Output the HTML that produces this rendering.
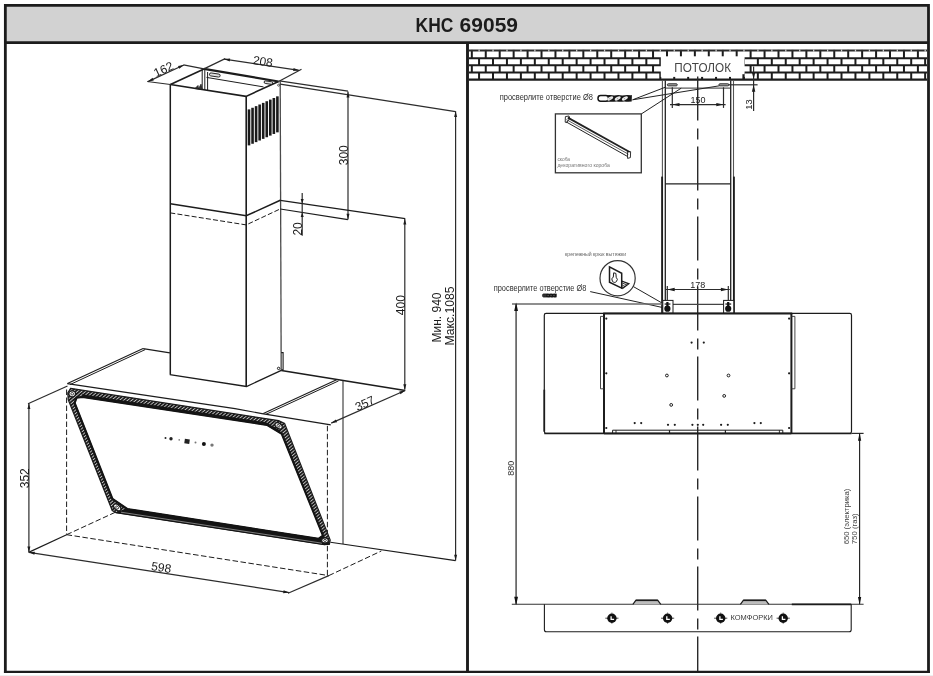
<!DOCTYPE html>
<html lang="ru"><head><meta charset="utf-8"><title>KHC 69059</title>
<style>
html,body{margin:0;padding:0;background:#fff;}
body{width:933px;height:676px;overflow:hidden;font-family:"Liberation Sans",sans-serif;}
svg{display:block;will-change:transform;}
svg text{font-family:"Liberation Sans",sans-serif;}
</style></head><body>
<svg width="933" height="676" viewBox="0 0 933 676">
<rect x="0" y="0" width="933" height="676" fill="#ffffff"/>
<rect x="5.3" y="5.3" width="923.1" height="37.3" fill="#d2d2d2"/>
<path d="M5.35 673.0 L5.35 5.3 L928.5 5.3 L928.5 673.0" fill="none" stroke="#1c1c1c" stroke-width="2.8" stroke-linejoin="miter"/>
<line x1="3.95" y1="671.90" x2="929.90" y2="671.90" stroke="#1c1c1c" stroke-width="2.3" />
<rect x="0" y="675" width="933" height="1" fill="#efefef"/>
<line x1="5.30" y1="42.60" x2="928.40" y2="42.60" stroke="#1c1c1c" stroke-width="2.8" />
<line x1="467.50" y1="42.60" x2="467.50" y2="671.80" stroke="#1c1c1c" stroke-width="2.9" />
<text x="415.60" y="31.90" font-size="20" text-anchor="start" fill="#1c1c1c" font-weight="bold" textLength="37.8" lengthAdjust="spacingAndGlyphs" >KHC</text>
<text x="459.60" y="31.90" font-size="20" text-anchor="start" fill="#1c1c1c" font-weight="bold" textLength="58.4" lengthAdjust="spacingAndGlyphs" >69059</text>
<path d="M170.40 84.50 L246.00 96.40 L278.60 81.50" fill="none" stroke="#1c1c1c" stroke-width="1.6" />
<path d="M170.40 84.50 L204.00 68.90" fill="none" stroke="#1c1c1c" stroke-width="1.6" />
<line x1="204.00" y1="68.90" x2="278.60" y2="81.50" stroke="#1c1c1c" stroke-width="2.2" />
<line x1="206.50" y1="77.40" x2="263.50" y2="86.90" stroke="#1c1c1c" stroke-width="1.0" />
<line x1="202.20" y1="69.50" x2="202.20" y2="89.60" stroke="#1c1c1c" stroke-width="1.0" />
<line x1="204.80" y1="70.00" x2="204.80" y2="90.00" stroke="#1c1c1c" stroke-width="1.0" />
<line x1="207.60" y1="72.00" x2="207.60" y2="90.40" stroke="#1c1c1c" stroke-width="1.0" />
<path d="M195.00 88.50 L198.00 85.50 L198.50 88.90 L201.00 84.20 L202.00 89.60 Z" fill="#333" stroke="#1c1c1c" stroke-width="0.8" />
<rect x="-5.4" y="-1.5" width="10.8" height="3" rx="1.5" fill="#ddd" stroke="#1c1c1c" stroke-width="0.9" transform="translate(214.8 75.0) rotate(8.5)"/>
<rect x="-4.3" y="-1.3" width="8.6" height="2.6" rx="1.3" fill="#ddd" stroke="#1c1c1c" stroke-width="0.9" transform="translate(268.4 82.6) rotate(8.5)"/>
<circle cx="278.6" cy="85.2" r="1" fill="none" stroke="#1c1c1c" stroke-width="0.7"/>
<line x1="170.30" y1="84.50" x2="170.30" y2="374.60" stroke="#1c1c1c" stroke-width="1.5" />
<line x1="246.20" y1="96.40" x2="246.20" y2="386.50" stroke="#1c1c1c" stroke-width="1.6" />
<line x1="280.20" y1="81.50" x2="281.20" y2="370.40" stroke="#4a4a4a" stroke-width="1.3" />
<path d="M170.30 203.80 L246.20 215.80 L280.30 200.30" fill="none" stroke="#1c1c1c" stroke-width="1.5" />
<path d="M170.30 212.90 L246.20 224.90 L280.30 208.90" fill="none" stroke="#1c1c1c" stroke-width="1.0" stroke-dasharray="5 2.2"/>
<path d="M169.80 374.70 L246.50 386.50 L281.30 370.40" fill="none" stroke="#1c1c1c" stroke-width="1.3" />
<line x1="249.00" y1="109.40" x2="249.00" y2="145.40" stroke="#1a1a1a" stroke-width="2.6" />
<line x1="252.55" y1="107.77" x2="252.55" y2="143.77" stroke="#1a1a1a" stroke-width="2.6" />
<line x1="256.10" y1="106.13" x2="256.10" y2="142.13" stroke="#1a1a1a" stroke-width="2.6" />
<line x1="259.65" y1="104.50" x2="259.65" y2="140.50" stroke="#1a1a1a" stroke-width="2.6" />
<line x1="263.20" y1="102.87" x2="263.20" y2="138.87" stroke="#1a1a1a" stroke-width="2.6" />
<line x1="266.75" y1="101.23" x2="266.75" y2="137.24" stroke="#1a1a1a" stroke-width="2.6" />
<line x1="270.30" y1="99.60" x2="270.30" y2="135.60" stroke="#1a1a1a" stroke-width="2.6" />
<line x1="273.85" y1="97.97" x2="273.85" y2="133.97" stroke="#1a1a1a" stroke-width="2.6" />
<line x1="277.40" y1="96.34" x2="277.40" y2="132.34" stroke="#1a1a1a" stroke-width="2.6" />
<path d="M281.20 352.60 L283.10 352.60 L283.10 369.60 L281.20 370.20" fill="none" stroke="#1c1c1c" stroke-width="1.1" />
<circle cx="278.6" cy="368.4" r="1.2" fill="#fff" stroke="#1c1c1c" stroke-width="1.0"/>
<line x1="170.40" y1="84.50" x2="147.20" y2="81.50" stroke="#2c2c2c" stroke-width="1.2" />
<line x1="204.00" y1="68.90" x2="183.50" y2="64.90" stroke="#2c2c2c" stroke-width="1.2" />
<line x1="147.90" y1="81.60" x2="183.90" y2="65.00" stroke="#2c2c2c" stroke-width="1.2" />
<path d="M147.90 81.60 L152.54 77.81 L153.80 80.53 Z" fill="#1c1c1c"/>
<path d="M183.90 65.00 L179.26 68.79 L178.00 66.07 Z" fill="#1c1c1c"/>
<text x="165.20" y="73.00" font-size="12" text-anchor="middle" fill="#1c1c1c" font-weight="normal" transform="rotate(-24.8 165.20 73.00)" >162</text>
<line x1="204.00" y1="68.90" x2="225.20" y2="58.60" stroke="#2c2c2c" stroke-width="1.2" />
<line x1="278.60" y1="81.50" x2="301.50" y2="69.20" stroke="#2c2c2c" stroke-width="1.2" />
<line x1="224.20" y1="59.10" x2="299.10" y2="70.30" stroke="#2c2c2c" stroke-width="1.2" />
<path d="M224.20 59.10 L230.16 58.47 L229.71 61.44 Z" fill="#1c1c1c"/>
<path d="M299.10 70.30 L293.14 70.93 L293.59 67.96 Z" fill="#1c1c1c"/>
<text x="262.30" y="65.40" font-size="12" text-anchor="middle" fill="#1c1c1c" font-weight="normal" transform="rotate(8.5 262.30 65.40)" >208</text>
<line x1="279.40" y1="80.90" x2="348.00" y2="91.10" stroke="#2c2c2c" stroke-width="1.2" />
<line x1="280.20" y1="84.10" x2="455.60" y2="111.70" stroke="#2c2c2c" stroke-width="1.2" />
<line x1="348.00" y1="91.50" x2="348.00" y2="219.60" stroke="#2c2c2c" stroke-width="1.2" />
<path d="M348.00 91.80 L349.50 97.60 L346.50 97.60 Z" fill="#1c1c1c"/>
<path d="M348.00 219.60 L346.50 213.80 L349.50 213.80 Z" fill="#1c1c1c"/>
<text x="348.20" y="155.20" font-size="12" text-anchor="middle" fill="#1c1c1c" font-weight="normal" transform="rotate(-90 348.20 155.20)" dy="0">300</text>
<line x1="280.30" y1="200.40" x2="405.20" y2="218.60" stroke="#1c1c1c" stroke-width="1.2" />
<line x1="280.30" y1="209.00" x2="347.90" y2="219.70" stroke="#1c1c1c" stroke-width="1.2" />
<line x1="302.20" y1="192.90" x2="302.20" y2="235.80" stroke="#2c2c2c" stroke-width="1.2" />
<path d="M302.20 203.60 L300.70 199.10 L303.70 199.10 Z" fill="#1c1c1c"/>
<path d="M302.20 212.40 L303.70 216.90 L300.70 216.90 Z" fill="#1c1c1c"/>
<text x="302.00" y="228.90" font-size="12" text-anchor="middle" fill="#1c1c1c" font-weight="normal" transform="rotate(-90 302.00 228.90)" dy="0">20</text>
<line x1="404.80" y1="218.80" x2="404.80" y2="389.60" stroke="#2c2c2c" stroke-width="1.2" />
<path d="M404.80 218.80 L406.30 224.60 L403.30 224.60 Z" fill="#1c1c1c"/>
<path d="M404.80 390.00 L403.30 384.20 L406.30 384.20 Z" fill="#1c1c1c"/>
<text x="404.90" y="305.10" font-size="12" text-anchor="middle" fill="#1c1c1c" font-weight="normal" transform="rotate(-90 404.90 305.10)" dy="0">400</text>
<line x1="455.60" y1="111.20" x2="455.60" y2="560.60" stroke="#2c2c2c" stroke-width="1.2" />
<path d="M455.60 111.20 L457.10 117.00 L454.10 117.00 Z" fill="#1c1c1c"/>
<path d="M455.60 560.60 L454.10 554.80 L457.10 554.80 Z" fill="#1c1c1c"/>
<text x="440.60" y="317.50" font-size="12" text-anchor="middle" fill="#1c1c1c" font-weight="normal" transform="rotate(-90 440.60 317.50)" >Мин. 940</text>
<text x="454.00" y="316.00" font-size="12" text-anchor="middle" fill="#1c1c1c" font-weight="normal" transform="rotate(-90 454.00 316.00)" textLength="59" lengthAdjust="spacingAndGlyphs" >Макс.1085</text>
<path d="M143.10 348.60 L169.90 352.90" fill="none" stroke="#1c1c1c" stroke-width="1.2" />
<path d="M281.30 370.50 L405.20 390.50" fill="none" stroke="#1c1c1c" stroke-width="1.7" />
<line x1="143.10" y1="348.60" x2="67.50" y2="383.60" stroke="#1c1c1c" stroke-width="1.1" />
<line x1="145.20" y1="349.60" x2="70.00" y2="384.60" stroke="#1c1c1c" stroke-width="1.0" />
<line x1="336.60" y1="379.80" x2="263.30" y2="413.40" stroke="#1c1c1c" stroke-width="1.1" />
<line x1="338.60" y1="380.90" x2="266.00" y2="414.30" stroke="#1c1c1c" stroke-width="1.0" />
<path d="M67.30 383.60 L235.00 408.60 L262.00 413.60 L330.80 424.80" fill="none" stroke="#1c1c1c" stroke-width="1.2" />
<line x1="405.20" y1="390.50" x2="331.20" y2="423.10" stroke="#2c2c2c" stroke-width="1.2" />
<path d="M405.20 390.50 L400.50 394.21 L399.29 391.47 Z" fill="#1c1c1c"/>
<path d="M331.20 423.10 L335.90 419.39 L337.11 422.13 Z" fill="#1c1c1c"/>
<text x="366.50" y="407.20" font-size="12" text-anchor="middle" fill="#1c1c1c" font-weight="normal" transform="rotate(-24.5 366.50 407.20)" >357</text>
<line x1="343.00" y1="381.00" x2="343.00" y2="544.00" stroke="#333" stroke-width="1.1" />
<line x1="327.40" y1="425.80" x2="327.40" y2="575.60" stroke="#1c1c1c" stroke-width="1.0" stroke-dasharray="5.5 2.5"/>
<line x1="330.40" y1="542.30" x2="455.60" y2="560.60" stroke="#1c1c1c" stroke-width="1.1" />
<line x1="328.80" y1="575.60" x2="381.30" y2="551.00" stroke="#1c1c1c" stroke-width="1.0" stroke-dasharray="5.5 2.5"/>
<line x1="66.60" y1="534.70" x2="328.80" y2="575.60" stroke="#1c1c1c" stroke-width="1.0" stroke-dasharray="5.5 2.5"/>
<line x1="66.60" y1="534.70" x2="115.00" y2="512.40" stroke="#1c1c1c" stroke-width="1.0" stroke-dasharray="5.5 2.5"/>
<line x1="66.60" y1="389.50" x2="66.60" y2="534.70" stroke="#1c1c1c" stroke-width="1.0" stroke-dasharray="5.5 2.5"/>
<line x1="67.50" y1="386.00" x2="28.00" y2="403.80" stroke="#2c2c2c" stroke-width="1.2" />
<line x1="66.60" y1="534.70" x2="28.60" y2="552.40" stroke="#1c1c1c" stroke-width="1.2" />
<line x1="28.90" y1="403.30" x2="28.90" y2="552.30" stroke="#2c2c2c" stroke-width="1.2" />
<path d="M28.90 403.30 L30.40 409.10 L27.40 409.10 Z" fill="#1c1c1c"/>
<path d="M28.90 552.30 L27.40 546.50 L30.40 546.50 Z" fill="#1c1c1c"/>
<text x="28.70" y="478.20" font-size="12" text-anchor="middle" fill="#1c1c1c" font-weight="normal" transform="rotate(-90 28.70 478.20)" dy="0">352</text>
<line x1="28.90" y1="552.30" x2="289.10" y2="592.60" stroke="#2c2c2c" stroke-width="1.2" />
<line x1="328.80" y1="575.60" x2="288.00" y2="593.20" stroke="#2c2c2c" stroke-width="1.2" />
<path d="M28.90 552.30 L34.86 551.71 L34.40 554.67 Z" fill="#1c1c1c"/>
<path d="M289.10 592.60 L283.14 593.19 L283.60 590.23 Z" fill="#1c1c1c"/>
<text x="160.60" y="571.60" font-size="12" text-anchor="middle" fill="#1c1c1c" font-weight="normal" transform="rotate(8.8 160.60 571.60)" >598</text>
<defs><pattern id="hatch" width="2.6" height="2.6" patternUnits="userSpaceOnUse" patternTransform="rotate(-40)"><rect width="2.6" height="2.6" fill="#141414"/><rect width="2.6" height="0.95" y="0.8" fill="#c4c4c4"/></pattern></defs>
<path d="M70.60 388.30 L278.60 420.60 L284.60 423.40 L286.40 428.00 L330.20 540.00 L329.40 544.20 L324.50 544.60 L116.00 512.60 L112.20 510.50 L68.20 399.50 L67.80 393.00 Z M82.50 397.00 L267.00 424.90 L281.80 433.80 L323.00 535.60 L318.50 538.80 L127.20 509.00 L112.40 498.80 L74.60 402.80 L76.60 397.60 Z" fill="url(#hatch)" fill-rule="evenodd" stroke="#1c1c1c" stroke-width="1.2"/>
<path d="M82.50 397.00 L267.00 424.90 L281.80 433.80 L323.00 535.60 L318.50 538.80 L127.20 509.00 L112.40 498.80 L74.60 402.80 L76.60 397.60 Z" fill="none" stroke="#141414" stroke-width="2.2" stroke-linejoin="round"/>
<path d="M82.5 397.0 L267.0 424.9 L281.8 433.8 L279.0 430.0 L266.0 422.2 L82.0 394.3 Z" fill="#141414"/>
<path d="M127.2 509.0 L318.5 538.8 L323.0 535.6 L329.4 544.2 L324.5 544.6 L116.0 512.6 Z" fill="#141414" stroke="#141414" stroke-width="1"/>
<path d="M121 512.2 L322 543.2" fill="none" stroke="#c4c4c4" stroke-width="0.6"/>
<ellipse cx="72.2" cy="393.8" rx="3.3" ry="3.0" fill="#fff" stroke="#1c1c1c" stroke-width="1.3" transform="rotate(0 72.2 393.8)"/>
<ellipse cx="72.2" cy="393.8" rx="1.39" ry="1.26" fill="#fff" stroke="#1c1c1c" stroke-width="0.8" transform="rotate(0 72.2 393.8)"/>
<ellipse cx="278.6" cy="425.8" rx="4.0" ry="2.5" fill="#fff" stroke="#1c1c1c" stroke-width="1.3" transform="rotate(35 278.6 425.8)"/>
<ellipse cx="278.6" cy="425.8" rx="1.68" ry="1.05" fill="#fff" stroke="#1c1c1c" stroke-width="0.8" transform="rotate(35 278.6 425.8)"/>
<ellipse cx="117.2" cy="507.4" rx="4.2" ry="2.5" fill="#fff" stroke="#1c1c1c" stroke-width="1.3" transform="rotate(40 117.2 507.4)"/>
<ellipse cx="117.2" cy="507.4" rx="1.76" ry="1.05" fill="#fff" stroke="#1c1c1c" stroke-width="0.8" transform="rotate(40 117.2 507.4)"/>
<ellipse cx="325.0" cy="540.4" rx="3.4" ry="2.5" fill="#fff" stroke="#1c1c1c" stroke-width="1.3" transform="rotate(0 325.0 540.4)"/>
<ellipse cx="325.0" cy="540.4" rx="1.43" ry="1.05" fill="#fff" stroke="#1c1c1c" stroke-width="0.8" transform="rotate(0 325.0 540.4)"/>
<circle cx="165.5" cy="437.9" r="1.0" fill="#222"/>
<circle cx="171.0" cy="438.7" r="1.7" fill="#222"/>
<circle cx="179.2" cy="439.9" r="0.8" fill="#777"/>
<circle cx="195.5" cy="442.5" r="1.0" fill="#777"/>
<circle cx="203.9" cy="443.9" r="2.0" fill="#111"/>
<circle cx="212.0" cy="445.1" r="1.7" fill="#777"/>
<rect x="184.6" y="439.0" width="5" height="4.6" fill="#222" transform="rotate(8 187 441)"/>
<rect x="469.0" y="49.9" width="458.0" height="29.7" fill="#fff"/>
<line x1="471.82" y1="49.90" x2="471.82" y2="58.30" stroke="#1c1c1c" stroke-width="2.0" />
<line x1="485.76" y1="49.90" x2="485.76" y2="58.30" stroke="#1c1c1c" stroke-width="2.0" />
<line x1="499.70" y1="49.90" x2="499.70" y2="58.30" stroke="#1c1c1c" stroke-width="2.0" />
<line x1="513.64" y1="49.90" x2="513.64" y2="58.30" stroke="#1c1c1c" stroke-width="2.0" />
<line x1="527.58" y1="49.90" x2="527.58" y2="58.30" stroke="#1c1c1c" stroke-width="2.0" />
<line x1="541.52" y1="49.90" x2="541.52" y2="58.30" stroke="#1c1c1c" stroke-width="2.0" />
<line x1="555.46" y1="49.90" x2="555.46" y2="58.30" stroke="#1c1c1c" stroke-width="2.0" />
<line x1="569.40" y1="49.90" x2="569.40" y2="58.30" stroke="#1c1c1c" stroke-width="2.0" />
<line x1="583.34" y1="49.90" x2="583.34" y2="58.30" stroke="#1c1c1c" stroke-width="2.0" />
<line x1="597.28" y1="49.90" x2="597.28" y2="58.30" stroke="#1c1c1c" stroke-width="2.0" />
<line x1="611.22" y1="49.90" x2="611.22" y2="58.30" stroke="#1c1c1c" stroke-width="2.0" />
<line x1="625.16" y1="49.90" x2="625.16" y2="58.30" stroke="#1c1c1c" stroke-width="2.0" />
<line x1="639.10" y1="49.90" x2="639.10" y2="58.30" stroke="#1c1c1c" stroke-width="2.0" />
<line x1="653.04" y1="49.90" x2="653.04" y2="58.30" stroke="#1c1c1c" stroke-width="2.0" />
<line x1="666.98" y1="49.90" x2="666.98" y2="58.30" stroke="#1c1c1c" stroke-width="2.0" />
<line x1="680.92" y1="49.90" x2="680.92" y2="58.30" stroke="#1c1c1c" stroke-width="2.0" />
<line x1="694.86" y1="49.90" x2="694.86" y2="58.30" stroke="#1c1c1c" stroke-width="2.0" />
<line x1="708.80" y1="49.90" x2="708.80" y2="58.30" stroke="#1c1c1c" stroke-width="2.0" />
<line x1="722.74" y1="49.90" x2="722.74" y2="58.30" stroke="#1c1c1c" stroke-width="2.0" />
<line x1="736.68" y1="49.90" x2="736.68" y2="58.30" stroke="#1c1c1c" stroke-width="2.0" />
<line x1="750.62" y1="49.90" x2="750.62" y2="58.30" stroke="#1c1c1c" stroke-width="2.0" />
<line x1="764.56" y1="49.90" x2="764.56" y2="58.30" stroke="#1c1c1c" stroke-width="2.0" />
<line x1="778.50" y1="49.90" x2="778.50" y2="58.30" stroke="#1c1c1c" stroke-width="2.0" />
<line x1="792.44" y1="49.90" x2="792.44" y2="58.30" stroke="#1c1c1c" stroke-width="2.0" />
<line x1="806.38" y1="49.90" x2="806.38" y2="58.30" stroke="#1c1c1c" stroke-width="2.0" />
<line x1="820.32" y1="49.90" x2="820.32" y2="58.30" stroke="#1c1c1c" stroke-width="2.0" />
<line x1="834.26" y1="49.90" x2="834.26" y2="58.30" stroke="#1c1c1c" stroke-width="2.0" />
<line x1="848.20" y1="49.90" x2="848.20" y2="58.30" stroke="#1c1c1c" stroke-width="2.0" />
<line x1="862.14" y1="49.90" x2="862.14" y2="58.30" stroke="#1c1c1c" stroke-width="2.0" />
<line x1="876.08" y1="49.90" x2="876.08" y2="58.30" stroke="#1c1c1c" stroke-width="2.0" />
<line x1="890.02" y1="49.90" x2="890.02" y2="58.30" stroke="#1c1c1c" stroke-width="2.0" />
<line x1="903.96" y1="49.90" x2="903.96" y2="58.30" stroke="#1c1c1c" stroke-width="2.0" />
<line x1="917.90" y1="49.90" x2="917.90" y2="58.30" stroke="#1c1c1c" stroke-width="2.0" />
<line x1="479.06" y1="58.30" x2="479.06" y2="65.30" stroke="#1c1c1c" stroke-width="2.0" />
<line x1="493.00" y1="58.30" x2="493.00" y2="65.30" stroke="#1c1c1c" stroke-width="2.0" />
<line x1="506.94" y1="58.30" x2="506.94" y2="65.30" stroke="#1c1c1c" stroke-width="2.0" />
<line x1="520.88" y1="58.30" x2="520.88" y2="65.30" stroke="#1c1c1c" stroke-width="2.0" />
<line x1="534.82" y1="58.30" x2="534.82" y2="65.30" stroke="#1c1c1c" stroke-width="2.0" />
<line x1="548.76" y1="58.30" x2="548.76" y2="65.30" stroke="#1c1c1c" stroke-width="2.0" />
<line x1="562.70" y1="58.30" x2="562.70" y2="65.30" stroke="#1c1c1c" stroke-width="2.0" />
<line x1="576.64" y1="58.30" x2="576.64" y2="65.30" stroke="#1c1c1c" stroke-width="2.0" />
<line x1="590.58" y1="58.30" x2="590.58" y2="65.30" stroke="#1c1c1c" stroke-width="2.0" />
<line x1="604.52" y1="58.30" x2="604.52" y2="65.30" stroke="#1c1c1c" stroke-width="2.0" />
<line x1="618.46" y1="58.30" x2="618.46" y2="65.30" stroke="#1c1c1c" stroke-width="2.0" />
<line x1="632.40" y1="58.30" x2="632.40" y2="65.30" stroke="#1c1c1c" stroke-width="2.0" />
<line x1="646.34" y1="58.30" x2="646.34" y2="65.30" stroke="#1c1c1c" stroke-width="2.0" />
<line x1="660.28" y1="58.30" x2="660.28" y2="65.30" stroke="#1c1c1c" stroke-width="2.0" />
<line x1="674.22" y1="58.30" x2="674.22" y2="65.30" stroke="#1c1c1c" stroke-width="2.0" />
<line x1="688.16" y1="58.30" x2="688.16" y2="65.30" stroke="#1c1c1c" stroke-width="2.0" />
<line x1="702.10" y1="58.30" x2="702.10" y2="65.30" stroke="#1c1c1c" stroke-width="2.0" />
<line x1="716.04" y1="58.30" x2="716.04" y2="65.30" stroke="#1c1c1c" stroke-width="2.0" />
<line x1="729.98" y1="58.30" x2="729.98" y2="65.30" stroke="#1c1c1c" stroke-width="2.0" />
<line x1="743.92" y1="58.30" x2="743.92" y2="65.30" stroke="#1c1c1c" stroke-width="2.0" />
<line x1="757.86" y1="58.30" x2="757.86" y2="65.30" stroke="#1c1c1c" stroke-width="2.0" />
<line x1="771.80" y1="58.30" x2="771.80" y2="65.30" stroke="#1c1c1c" stroke-width="2.0" />
<line x1="785.74" y1="58.30" x2="785.74" y2="65.30" stroke="#1c1c1c" stroke-width="2.0" />
<line x1="799.68" y1="58.30" x2="799.68" y2="65.30" stroke="#1c1c1c" stroke-width="2.0" />
<line x1="813.62" y1="58.30" x2="813.62" y2="65.30" stroke="#1c1c1c" stroke-width="2.0" />
<line x1="827.56" y1="58.30" x2="827.56" y2="65.30" stroke="#1c1c1c" stroke-width="2.0" />
<line x1="841.50" y1="58.30" x2="841.50" y2="65.30" stroke="#1c1c1c" stroke-width="2.0" />
<line x1="855.44" y1="58.30" x2="855.44" y2="65.30" stroke="#1c1c1c" stroke-width="2.0" />
<line x1="869.38" y1="58.30" x2="869.38" y2="65.30" stroke="#1c1c1c" stroke-width="2.0" />
<line x1="883.32" y1="58.30" x2="883.32" y2="65.30" stroke="#1c1c1c" stroke-width="2.0" />
<line x1="897.26" y1="58.30" x2="897.26" y2="65.30" stroke="#1c1c1c" stroke-width="2.0" />
<line x1="911.20" y1="58.30" x2="911.20" y2="65.30" stroke="#1c1c1c" stroke-width="2.0" />
<line x1="925.14" y1="58.30" x2="925.14" y2="65.30" stroke="#1c1c1c" stroke-width="2.0" />
<line x1="471.82" y1="65.30" x2="471.82" y2="72.40" stroke="#1c1c1c" stroke-width="2.0" />
<line x1="485.76" y1="65.30" x2="485.76" y2="72.40" stroke="#1c1c1c" stroke-width="2.0" />
<line x1="499.70" y1="65.30" x2="499.70" y2="72.40" stroke="#1c1c1c" stroke-width="2.0" />
<line x1="513.64" y1="65.30" x2="513.64" y2="72.40" stroke="#1c1c1c" stroke-width="2.0" />
<line x1="527.58" y1="65.30" x2="527.58" y2="72.40" stroke="#1c1c1c" stroke-width="2.0" />
<line x1="541.52" y1="65.30" x2="541.52" y2="72.40" stroke="#1c1c1c" stroke-width="2.0" />
<line x1="555.46" y1="65.30" x2="555.46" y2="72.40" stroke="#1c1c1c" stroke-width="2.0" />
<line x1="569.40" y1="65.30" x2="569.40" y2="72.40" stroke="#1c1c1c" stroke-width="2.0" />
<line x1="583.34" y1="65.30" x2="583.34" y2="72.40" stroke="#1c1c1c" stroke-width="2.0" />
<line x1="597.28" y1="65.30" x2="597.28" y2="72.40" stroke="#1c1c1c" stroke-width="2.0" />
<line x1="611.22" y1="65.30" x2="611.22" y2="72.40" stroke="#1c1c1c" stroke-width="2.0" />
<line x1="625.16" y1="65.30" x2="625.16" y2="72.40" stroke="#1c1c1c" stroke-width="2.0" />
<line x1="639.10" y1="65.30" x2="639.10" y2="72.40" stroke="#1c1c1c" stroke-width="2.0" />
<line x1="653.04" y1="65.30" x2="653.04" y2="72.40" stroke="#1c1c1c" stroke-width="2.0" />
<line x1="666.98" y1="65.30" x2="666.98" y2="72.40" stroke="#1c1c1c" stroke-width="2.0" />
<line x1="680.92" y1="65.30" x2="680.92" y2="72.40" stroke="#1c1c1c" stroke-width="2.0" />
<line x1="694.86" y1="65.30" x2="694.86" y2="72.40" stroke="#1c1c1c" stroke-width="2.0" />
<line x1="708.80" y1="65.30" x2="708.80" y2="72.40" stroke="#1c1c1c" stroke-width="2.0" />
<line x1="722.74" y1="65.30" x2="722.74" y2="72.40" stroke="#1c1c1c" stroke-width="2.0" />
<line x1="736.68" y1="65.30" x2="736.68" y2="72.40" stroke="#1c1c1c" stroke-width="2.0" />
<line x1="750.62" y1="65.30" x2="750.62" y2="72.40" stroke="#1c1c1c" stroke-width="2.0" />
<line x1="764.56" y1="65.30" x2="764.56" y2="72.40" stroke="#1c1c1c" stroke-width="2.0" />
<line x1="778.50" y1="65.30" x2="778.50" y2="72.40" stroke="#1c1c1c" stroke-width="2.0" />
<line x1="792.44" y1="65.30" x2="792.44" y2="72.40" stroke="#1c1c1c" stroke-width="2.0" />
<line x1="806.38" y1="65.30" x2="806.38" y2="72.40" stroke="#1c1c1c" stroke-width="2.0" />
<line x1="820.32" y1="65.30" x2="820.32" y2="72.40" stroke="#1c1c1c" stroke-width="2.0" />
<line x1="834.26" y1="65.30" x2="834.26" y2="72.40" stroke="#1c1c1c" stroke-width="2.0" />
<line x1="848.20" y1="65.30" x2="848.20" y2="72.40" stroke="#1c1c1c" stroke-width="2.0" />
<line x1="862.14" y1="65.30" x2="862.14" y2="72.40" stroke="#1c1c1c" stroke-width="2.0" />
<line x1="876.08" y1="65.30" x2="876.08" y2="72.40" stroke="#1c1c1c" stroke-width="2.0" />
<line x1="890.02" y1="65.30" x2="890.02" y2="72.40" stroke="#1c1c1c" stroke-width="2.0" />
<line x1="903.96" y1="65.30" x2="903.96" y2="72.40" stroke="#1c1c1c" stroke-width="2.0" />
<line x1="917.90" y1="65.30" x2="917.90" y2="72.40" stroke="#1c1c1c" stroke-width="2.0" />
<line x1="479.06" y1="72.40" x2="479.06" y2="79.60" stroke="#1c1c1c" stroke-width="2.0" />
<line x1="493.00" y1="72.40" x2="493.00" y2="79.60" stroke="#1c1c1c" stroke-width="2.0" />
<line x1="506.94" y1="72.40" x2="506.94" y2="79.60" stroke="#1c1c1c" stroke-width="2.0" />
<line x1="520.88" y1="72.40" x2="520.88" y2="79.60" stroke="#1c1c1c" stroke-width="2.0" />
<line x1="534.82" y1="72.40" x2="534.82" y2="79.60" stroke="#1c1c1c" stroke-width="2.0" />
<line x1="548.76" y1="72.40" x2="548.76" y2="79.60" stroke="#1c1c1c" stroke-width="2.0" />
<line x1="562.70" y1="72.40" x2="562.70" y2="79.60" stroke="#1c1c1c" stroke-width="2.0" />
<line x1="576.64" y1="72.40" x2="576.64" y2="79.60" stroke="#1c1c1c" stroke-width="2.0" />
<line x1="590.58" y1="72.40" x2="590.58" y2="79.60" stroke="#1c1c1c" stroke-width="2.0" />
<line x1="604.52" y1="72.40" x2="604.52" y2="79.60" stroke="#1c1c1c" stroke-width="2.0" />
<line x1="618.46" y1="72.40" x2="618.46" y2="79.60" stroke="#1c1c1c" stroke-width="2.0" />
<line x1="632.40" y1="72.40" x2="632.40" y2="79.60" stroke="#1c1c1c" stroke-width="2.0" />
<line x1="646.34" y1="72.40" x2="646.34" y2="79.60" stroke="#1c1c1c" stroke-width="2.0" />
<line x1="660.28" y1="72.40" x2="660.28" y2="79.60" stroke="#1c1c1c" stroke-width="2.0" />
<line x1="674.22" y1="72.40" x2="674.22" y2="79.60" stroke="#1c1c1c" stroke-width="2.0" />
<line x1="688.16" y1="72.40" x2="688.16" y2="79.60" stroke="#1c1c1c" stroke-width="2.0" />
<line x1="702.10" y1="72.40" x2="702.10" y2="79.60" stroke="#1c1c1c" stroke-width="2.0" />
<line x1="716.04" y1="72.40" x2="716.04" y2="79.60" stroke="#1c1c1c" stroke-width="2.0" />
<line x1="729.98" y1="72.40" x2="729.98" y2="79.60" stroke="#1c1c1c" stroke-width="2.0" />
<line x1="743.92" y1="72.40" x2="743.92" y2="79.60" stroke="#1c1c1c" stroke-width="2.0" />
<line x1="757.86" y1="72.40" x2="757.86" y2="79.60" stroke="#1c1c1c" stroke-width="2.0" />
<line x1="771.80" y1="72.40" x2="771.80" y2="79.60" stroke="#1c1c1c" stroke-width="2.0" />
<line x1="785.74" y1="72.40" x2="785.74" y2="79.60" stroke="#1c1c1c" stroke-width="2.0" />
<line x1="799.68" y1="72.40" x2="799.68" y2="79.60" stroke="#1c1c1c" stroke-width="2.0" />
<line x1="813.62" y1="72.40" x2="813.62" y2="79.60" stroke="#1c1c1c" stroke-width="2.0" />
<line x1="827.56" y1="72.40" x2="827.56" y2="79.60" stroke="#1c1c1c" stroke-width="2.0" />
<line x1="841.50" y1="72.40" x2="841.50" y2="79.60" stroke="#1c1c1c" stroke-width="2.0" />
<line x1="855.44" y1="72.40" x2="855.44" y2="79.60" stroke="#1c1c1c" stroke-width="2.0" />
<line x1="869.38" y1="72.40" x2="869.38" y2="79.60" stroke="#1c1c1c" stroke-width="2.0" />
<line x1="883.32" y1="72.40" x2="883.32" y2="79.60" stroke="#1c1c1c" stroke-width="2.0" />
<line x1="897.26" y1="72.40" x2="897.26" y2="79.60" stroke="#1c1c1c" stroke-width="2.0" />
<line x1="911.20" y1="72.40" x2="911.20" y2="79.60" stroke="#1c1c1c" stroke-width="2.0" />
<line x1="925.14" y1="72.40" x2="925.14" y2="79.60" stroke="#1c1c1c" stroke-width="2.0" />
<line x1="469.00" y1="58.30" x2="927.00" y2="58.30" stroke="#1c1c1c" stroke-width="2.0" />
<line x1="469.00" y1="65.30" x2="927.00" y2="65.30" stroke="#1c1c1c" stroke-width="2.0" />
<line x1="469.00" y1="72.40" x2="927.00" y2="72.40" stroke="#1c1c1c" stroke-width="2.0" />
<line x1="469.00" y1="50.60" x2="927.00" y2="50.60" stroke="#2a2a2a" stroke-width="2.0" />
<rect x="478.46" y="49.5" width="1.3" height="2.2" fill="#d0d0d0"/>
<rect x="492.40" y="49.5" width="1.3" height="2.2" fill="#d0d0d0"/>
<rect x="506.34" y="49.5" width="1.3" height="2.2" fill="#d0d0d0"/>
<rect x="520.28" y="49.5" width="1.3" height="2.2" fill="#d0d0d0"/>
<rect x="534.22" y="49.5" width="1.3" height="2.2" fill="#d0d0d0"/>
<rect x="548.16" y="49.5" width="1.3" height="2.2" fill="#d0d0d0"/>
<rect x="562.10" y="49.5" width="1.3" height="2.2" fill="#d0d0d0"/>
<rect x="576.04" y="49.5" width="1.3" height="2.2" fill="#d0d0d0"/>
<rect x="589.98" y="49.5" width="1.3" height="2.2" fill="#d0d0d0"/>
<rect x="603.92" y="49.5" width="1.3" height="2.2" fill="#d0d0d0"/>
<rect x="617.86" y="49.5" width="1.3" height="2.2" fill="#d0d0d0"/>
<rect x="631.80" y="49.5" width="1.3" height="2.2" fill="#d0d0d0"/>
<rect x="645.74" y="49.5" width="1.3" height="2.2" fill="#d0d0d0"/>
<rect x="659.68" y="49.5" width="1.3" height="2.2" fill="#d0d0d0"/>
<rect x="673.62" y="49.5" width="1.3" height="2.2" fill="#d0d0d0"/>
<rect x="687.56" y="49.5" width="1.3" height="2.2" fill="#d0d0d0"/>
<rect x="701.50" y="49.5" width="1.3" height="2.2" fill="#d0d0d0"/>
<rect x="715.44" y="49.5" width="1.3" height="2.2" fill="#d0d0d0"/>
<rect x="729.38" y="49.5" width="1.3" height="2.2" fill="#d0d0d0"/>
<rect x="743.32" y="49.5" width="1.3" height="2.2" fill="#d0d0d0"/>
<rect x="757.26" y="49.5" width="1.3" height="2.2" fill="#d0d0d0"/>
<rect x="771.20" y="49.5" width="1.3" height="2.2" fill="#d0d0d0"/>
<rect x="785.14" y="49.5" width="1.3" height="2.2" fill="#d0d0d0"/>
<rect x="799.08" y="49.5" width="1.3" height="2.2" fill="#d0d0d0"/>
<rect x="813.02" y="49.5" width="1.3" height="2.2" fill="#d0d0d0"/>
<rect x="826.96" y="49.5" width="1.3" height="2.2" fill="#d0d0d0"/>
<rect x="840.90" y="49.5" width="1.3" height="2.2" fill="#d0d0d0"/>
<rect x="854.84" y="49.5" width="1.3" height="2.2" fill="#d0d0d0"/>
<rect x="868.78" y="49.5" width="1.3" height="2.2" fill="#d0d0d0"/>
<rect x="882.72" y="49.5" width="1.3" height="2.2" fill="#d0d0d0"/>
<rect x="896.66" y="49.5" width="1.3" height="2.2" fill="#d0d0d0"/>
<rect x="910.60" y="49.5" width="1.3" height="2.2" fill="#d0d0d0"/>
<rect x="924.54" y="49.5" width="1.3" height="2.2" fill="#d0d0d0"/>
<line x1="469.00" y1="79.60" x2="927.00" y2="79.60" stroke="#1c1c1c" stroke-width="2.4" />
<rect x="660.8" y="56.3" width="83.8" height="20.6" fill="#fff"/>
<text x="702.60" y="71.60" font-size="13.1" text-anchor="middle" fill="#454545" font-weight="normal" textLength="56.7" lengthAdjust="spacingAndGlyphs" >ПОТОЛОК</text>
<line x1="743.40" y1="74.20" x2="743.40" y2="79.60" stroke="#1c1c1c" stroke-width="2.0" />
<line x1="662.40" y1="80.50" x2="662.40" y2="177.00" stroke="#555" stroke-width="1.1" />
<line x1="665.30" y1="80.50" x2="665.30" y2="313.00" stroke="#222" stroke-width="1.3" />
<line x1="730.70" y1="80.50" x2="730.70" y2="313.00" stroke="#222" stroke-width="1.3" />
<line x1="733.50" y1="80.50" x2="733.50" y2="177.00" stroke="#555" stroke-width="1.1" />
<line x1="662.10" y1="176.60" x2="662.10" y2="313.50" stroke="#1c1c1c" stroke-width="1.9" />
<line x1="733.90" y1="176.60" x2="733.90" y2="313.50" stroke="#1c1c1c" stroke-width="1.9" />
<line x1="665.30" y1="183.80" x2="730.70" y2="183.80" stroke="#222" stroke-width="1.2" />
<line x1="665.30" y1="88.10" x2="730.70" y2="88.10" stroke="#333" stroke-width="1.0" />
<rect x="667.3" y="83.7" width="10" height="2.2" rx="1.1" fill="#999" stroke="#1c1c1c" stroke-width="0.8"/>
<rect x="718.9" y="83.7" width="10" height="2.2" rx="1.1" fill="#999" stroke="#1c1c1c" stroke-width="0.8"/>
<line x1="697.70" y1="76.50" x2="697.70" y2="671.00" stroke="#2a2a2a" stroke-width="1.4" stroke-dasharray="44 8 11 7"/>
<line x1="672.30" y1="87.30" x2="672.30" y2="107.90" stroke="#2c2c2c" stroke-width="1.2" />
<line x1="723.50" y1="87.30" x2="723.50" y2="107.90" stroke="#2c2c2c" stroke-width="1.2" />
<line x1="670.00" y1="104.60" x2="725.60" y2="104.60" stroke="#2c2c2c" stroke-width="1.2" />
<path d="M672.30 104.60 L679.50 102.90 L679.50 106.30 Z" fill="#1c1c1c"/>
<path d="M723.50 104.60 L716.30 106.30 L716.30 102.90 Z" fill="#1c1c1c"/>
<text x="697.90" y="102.60" font-size="9" text-anchor="middle" fill="#1c1c1c" font-weight="normal" >150</text>
<line x1="753.60" y1="66.50" x2="753.60" y2="111.00" stroke="#2c2c2c" stroke-width="1.2" />
<line x1="728.40" y1="84.80" x2="757.60" y2="84.80" stroke="#2c2c2c" stroke-width="1.2" />
<path d="M753.60 79.00 L751.90 72.20 L755.30 72.20 Z" fill="#1c1c1c"/>
<path d="M753.60 85.00 L755.30 91.80 L751.90 91.80 Z" fill="#1c1c1c"/>
<text x="751.60" y="104.50" font-size="9.4" text-anchor="middle" fill="#1c1c1c" font-weight="normal" transform="rotate(-90 751.60 104.50)" >13</text>
<text x="499.70" y="99.90" font-size="8.3" text-anchor="start" fill="#2e2e2e" font-weight="normal" textLength="93.2" lengthAdjust="spacingAndGlyphs" >просверлите отверстие Ø8</text>
<g transform="translate(597.3 98.4) scale(1.0 1.0)">
<path d="M9 -3.1 Q13 -3.7 17 -3.0 Q21 -3.7 25 -3.0 Q29 -3.6 33.6 -3.2 L34.6 -3.4 L34.4 3.2 Q30 3.6 27 3.0 Q23 3.7 19.5 3.0 Q15 3.7 9 3.2 Z" fill="#151515"/>
<rect x="0.7" y="-2.8" width="10.5" height="5.6" rx="2.6" fill="#fff" stroke="#151515" stroke-width="1.5"/>
<ellipse cx="12.9" cy="0" rx="3.3" ry="1.55" fill="#e9e9e9" transform="rotate(-30 12.9 0)"/>
<circle cx="12.6" cy="0.4" r="0.45" fill="#555"/>
<ellipse cx="20.4" cy="0" rx="3.3" ry="1.55" fill="#e9e9e9" transform="rotate(-30 20.4 0)"/>
<circle cx="20.099999999999998" cy="0.4" r="0.45" fill="#555"/>
<ellipse cx="27.6" cy="0" rx="3.3" ry="1.55" fill="#e9e9e9" transform="rotate(-30 27.6 0)"/>
<circle cx="27.3" cy="0.4" r="0.45" fill="#555"/>
</g>
<line x1="632.60" y1="99.80" x2="665.40" y2="87.20" stroke="#222" stroke-width="1.0" />
<line x1="632.60" y1="99.80" x2="719.40" y2="85.80" stroke="#222" stroke-width="1.0" />
<line x1="641.40" y1="113.90" x2="681.20" y2="88.20" stroke="#222" stroke-width="1.0" />
<rect x="555.4" y="113.9" width="85.9" height="58.9" fill="none" stroke="#333" stroke-width="1.3"/>
<line x1="567.80" y1="117.60" x2="629.60" y2="152.00" stroke="#222" stroke-width="1.8" />
<line x1="566.40" y1="119.60" x2="628.40" y2="154.20" stroke="#333" stroke-width="0.8" />
<line x1="566.00" y1="121.80" x2="627.40" y2="156.40" stroke="#222" stroke-width="1.0" />
<path d="M565.40 116.60 L569.00 116.00 L569.80 118.40 L566.60 122.60 L565.20 122.20 Z" fill="none" stroke="#1c1c1c" stroke-width="0.9" />
<path d="M627.40 151.40 L630.60 151.60 L630.40 157.60 L627.60 158.40 Z" fill="none" stroke="#1c1c1c" stroke-width="0.9" />
<text x="557.40" y="160.70" font-size="5.3" text-anchor="start" fill="#777" font-weight="normal" textLength="12.6" lengthAdjust="spacingAndGlyphs" >скоба</text>
<text x="557.40" y="167.00" font-size="5.3" text-anchor="start" fill="#777" font-weight="normal" textLength="52.4" lengthAdjust="spacingAndGlyphs" >декоративного короба</text>
<text x="565.10" y="255.60" font-size="5.2" text-anchor="start" fill="#666" font-weight="normal" textLength="61" lengthAdjust="spacingAndGlyphs" >крепежный крюк вытяжки</text>
<circle cx="617.6" cy="278.2" r="17.6" fill="none" stroke="#333" stroke-width="1.2"/>
<path d="M609.50 266.90 L621.70 273.30 L621.70 288.10 L609.50 282.30 Z" fill="none" stroke="#1c1c1c" stroke-width="1.5" />
<path d="M621.70 281.00 L628.80 283.80 L623.00 288.10 L621.70 288.10 Z" fill="none" stroke="#1c1c1c" stroke-width="1.3" />
<line x1="622.60" y1="283.20" x2="626.80" y2="284.90" stroke="#1c1c1c" stroke-width="0.9" />
<line x1="622.60" y1="285.40" x2="625.00" y2="286.40" stroke="#1c1c1c" stroke-width="0.9" />
<path d="M613.7 272.8 L615.9 273.4 L616.2 277.3 A2.6 2.9 0 1 1 613.3 277.0 Z" fill="#fff" stroke="#1c1c1c" stroke-width="1.0"/>
<text x="493.70" y="291.00" font-size="8.3" text-anchor="start" fill="#2e2e2e" font-weight="normal" textLength="92.6" lengthAdjust="spacingAndGlyphs" >просверлите отверстие Ø8</text>
<g transform="translate(542.2 295.5) scale(0.42 0.56)">
<path d="M9 -3.1 Q13 -3.7 17 -3.0 Q21 -3.7 25 -3.0 Q29 -3.6 33.6 -3.2 L34.6 -3.4 L34.4 3.2 Q30 3.6 27 3.0 Q23 3.7 19.5 3.0 Q15 3.7 9 3.2 Z" fill="#151515"/>
<rect x="0.7" y="-2.8" width="10.5" height="5.6" rx="2.6" fill="#333" stroke="#151515" stroke-width="1.5"/>
<circle cx="14" cy="0" r="1.3" fill="#777"/>
<circle cx="21" cy="0" r="1.3" fill="#777"/>
<circle cx="28" cy="0" r="1.3" fill="#777"/>
</g>
<line x1="590.20" y1="291.60" x2="662.00" y2="307.40" stroke="#222" stroke-width="1.0" />
<line x1="633.40" y1="286.60" x2="662.00" y2="303.00" stroke="#222" stroke-width="1.0" />
<line x1="512.00" y1="303.90" x2="662.50" y2="303.90" stroke="#6a6a6a" stroke-width="1.5" />
<line x1="673.00" y1="304.30" x2="723.40" y2="304.30" stroke="#444" stroke-width="1.2" />
<line x1="516.10" y1="304.00" x2="516.10" y2="604.30" stroke="#5a5a5a" stroke-width="1.6" />
<path d="M516.10 302.60 L518.00 311.00 L514.20 311.00 Z" fill="#111"/>
<path d="M516.10 605.20 L514.20 596.80 L518.00 596.80 Z" fill="#111"/>
<text x="514.30" y="468.20" font-size="9" text-anchor="middle" fill="#333" font-weight="normal" transform="rotate(-90 514.30 468.20)" >880</text>
<rect x="662.8" y="300.4" width="10.2" height="13" fill="#fff" stroke="#1c1c1c" stroke-width="1.0"/>
<circle cx="667.4" cy="308.7" r="3.1" fill="#111"/>
<rect x="664.5999999999999" y="303.4" width="5.8" height="1.3" fill="#222"/>
<rect x="666.3" y="302.0" width="2.2" height="4.5" fill="#111"/>
<rect x="723.6" y="300.4" width="10.2" height="13" fill="#fff" stroke="#1c1c1c" stroke-width="1.0"/>
<circle cx="728.2" cy="308.7" r="3.1" fill="#111"/>
<rect x="725.4" y="303.4" width="5.8" height="1.3" fill="#222"/>
<rect x="727.1" y="302.0" width="2.2" height="4.5" fill="#111"/>
<line x1="667.30" y1="286.00" x2="667.30" y2="300.40" stroke="#2c2c2c" stroke-width="1.2" />
<line x1="728.30" y1="286.00" x2="728.30" y2="300.40" stroke="#2c2c2c" stroke-width="1.2" />
<line x1="665.60" y1="289.50" x2="729.80" y2="289.50" stroke="#2c2c2c" stroke-width="1.2" />
<path d="M667.30 289.50 L674.70 287.80 L674.70 291.20 Z" fill="#1c1c1c"/>
<path d="M728.30 289.50 L720.90 291.20 L720.90 287.80 Z" fill="#1c1c1c"/>
<text x="697.80" y="287.60" font-size="9" text-anchor="middle" fill="#1c1c1c" font-weight="normal" >178</text>
<rect x="544.3" y="313.4" width="307.2" height="120.0" rx="1.8" fill="none" stroke="#1c1c1c" stroke-width="1.2"/>
<line x1="603.20" y1="313.60" x2="792.20" y2="313.60" stroke="#1c1c1c" stroke-width="2.0" />
<line x1="604.00" y1="433.40" x2="791.40" y2="433.40" stroke="#1c1c1c" stroke-width="2.0" />
<line x1="791.40" y1="433.40" x2="851.50" y2="433.40" stroke="#1c1c1c" stroke-width="1.5" />
<line x1="544.30" y1="433.40" x2="604.00" y2="433.40" stroke="#1c1c1c" stroke-width="1.5" />
<line x1="544.30" y1="389.70" x2="544.30" y2="431.60" stroke="#1c1c1c" stroke-width="1.7" />
<line x1="604.00" y1="313.60" x2="604.00" y2="433.40" stroke="#1c1c1c" stroke-width="2.0" />
<line x1="791.40" y1="313.60" x2="791.40" y2="433.40" stroke="#1c1c1c" stroke-width="2.0" />
<path d="M604.00 316.40 L600.50 316.40 L600.50 388.80 L604.00 388.80" fill="none" stroke="#333" stroke-width="0.9" />
<path d="M791.40 316.40 L794.90 316.40 L794.90 388.80 L791.40 388.80" fill="none" stroke="#333" stroke-width="0.9" />
<circle cx="606.3" cy="318.6" r="1.1" fill="#1c1c1c"/>
<circle cx="789.1" cy="318.6" r="1.1" fill="#1c1c1c"/>
<circle cx="606.3" cy="373.3" r="1.1" fill="#1c1c1c"/>
<circle cx="789.1" cy="373.3" r="1.1" fill="#1c1c1c"/>
<circle cx="606.3" cy="428.0" r="1.1" fill="#1c1c1c"/>
<circle cx="789.1" cy="428.0" r="1.1" fill="#1c1c1c"/>
<circle cx="691.6" cy="342.6" r="1.1" fill="#1c1c1c"/>
<circle cx="703.8" cy="342.6" r="1.1" fill="#1c1c1c"/>
<circle cx="634.7" cy="423.1" r="1.1" fill="#1c1c1c"/>
<circle cx="641.2" cy="423.1" r="1.1" fill="#1c1c1c"/>
<circle cx="754.4" cy="423.1" r="1.1" fill="#1c1c1c"/>
<circle cx="760.8" cy="423.1" r="1.1" fill="#1c1c1c"/>
<circle cx="668" cy="424.8" r="1.1" fill="#1c1c1c"/>
<circle cx="674.8" cy="424.8" r="1.1" fill="#1c1c1c"/>
<circle cx="692.4" cy="424.8" r="1.1" fill="#1c1c1c"/>
<circle cx="697.8" cy="424.8" r="1.1" fill="#1c1c1c"/>
<circle cx="703.2" cy="424.8" r="1.1" fill="#1c1c1c"/>
<circle cx="721.1" cy="424.8" r="1.1" fill="#1c1c1c"/>
<circle cx="727.8" cy="424.8" r="1.1" fill="#1c1c1c"/>
<circle cx="666.9" cy="375.5" r="1.4" fill="#fff" stroke="#1c1c1c" stroke-width="1.0"/>
<circle cx="728.5" cy="375.5" r="1.4" fill="#fff" stroke="#1c1c1c" stroke-width="1.0"/>
<circle cx="671.2" cy="404.9" r="1.4" fill="#fff" stroke="#1c1c1c" stroke-width="1.0"/>
<circle cx="724.2" cy="395.9" r="1.4" fill="#fff" stroke="#1c1c1c" stroke-width="1.0"/>
<path d="M612.60 433.40 L612.60 430.20 L782.80 430.20 L782.80 433.40" fill="none" stroke="#1c1c1c" stroke-width="1.0" />
<line x1="616.00" y1="430.20" x2="616.00" y2="433.40" stroke="#1c1c1c" stroke-width="0.9" />
<line x1="779.40" y1="430.20" x2="779.40" y2="433.40" stroke="#1c1c1c" stroke-width="0.9" />
<line x1="669.50" y1="430.20" x2="669.50" y2="433.40" stroke="#1c1c1c" stroke-width="1.2" />
<line x1="725.40" y1="430.20" x2="725.40" y2="433.40" stroke="#1c1c1c" stroke-width="1.2" />
<line x1="851.50" y1="433.40" x2="863.60" y2="433.40" stroke="#2c2c2c" stroke-width="1.2" />
<line x1="859.60" y1="433.40" x2="859.60" y2="604.30" stroke="#222" stroke-width="1.15" />
<path d="M859.60 432.80 L861.20 440.80 L858.00 440.80 Z" fill="#111"/>
<path d="M859.60 604.90 L858.00 596.90 L861.20 596.90 Z" fill="#111"/>
<text x="848.80" y="544.30" font-size="7.7" text-anchor="start" fill="#444" font-weight="normal" transform="rotate(-90 848.80 544.30)" textLength="55.7" lengthAdjust="spacingAndGlyphs" >650 (электрика)</text>
<text x="856.80" y="544.30" font-size="7.7" text-anchor="start" fill="#444" font-weight="normal" transform="rotate(-90 856.80 544.30)" textLength="31" lengthAdjust="spacingAndGlyphs" >750 (газ)</text>
<line x1="511.80" y1="604.30" x2="863.60" y2="604.30" stroke="#333" stroke-width="1.1" />
<path d="M544.4 604.3 L544.4 629.7 Q544.4 631.7 546.4 631.7 L849.2 631.7 Q851.2 631.7 851.2 629.7 L851.2 604.3" fill="none" stroke="#1c1c1c" stroke-width="1.1"/>
<line x1="791.80" y1="604.30" x2="851.20" y2="604.30" stroke="#1c1c1c" stroke-width="1.7" />
<path d="M632.90 604.40 L635.80 600.30 L657.80 600.30 L660.80 604.40" fill="#bdbdbd" stroke="#1c1c1c" stroke-width="1.2" />
<line x1="635.80" y1="600.30" x2="657.80" y2="600.30" stroke="#1c1c1c" stroke-width="1.6" />
<path d="M740.40 604.40 L743.30 600.30 L765.90 600.30 L768.90 604.40" fill="#bdbdbd" stroke="#1c1c1c" stroke-width="1.2" />
<line x1="743.30" y1="600.30" x2="765.90" y2="600.30" stroke="#1c1c1c" stroke-width="1.6" />
<line x1="605.30" y1="618.20" x2="618.50" y2="618.20" stroke="#222" stroke-width="0.8" />
<line x1="611.90" y1="612.40" x2="611.90" y2="624.00" stroke="#444" stroke-width="0.6" />
<circle cx="611.9" cy="618.2" r="4.7" fill="#111"/>
<path d="M611.1 616.2 L611.1 619.4 L614.1 619.4" stroke="#fff" stroke-width="1.3" fill="none"/>
<line x1="661.00" y1="618.20" x2="674.20" y2="618.20" stroke="#222" stroke-width="0.8" />
<line x1="667.60" y1="612.40" x2="667.60" y2="624.00" stroke="#444" stroke-width="0.6" />
<circle cx="667.6" cy="618.2" r="4.7" fill="#111"/>
<path d="M666.8000000000001 616.2 L666.8000000000001 619.4 L669.8000000000001 619.4" stroke="#fff" stroke-width="1.3" fill="none"/>
<line x1="714.10" y1="618.20" x2="727.30" y2="618.20" stroke="#222" stroke-width="0.8" />
<line x1="720.70" y1="612.40" x2="720.70" y2="624.00" stroke="#444" stroke-width="0.6" />
<circle cx="720.7" cy="618.2" r="4.7" fill="#111"/>
<path d="M719.9000000000001 616.2 L719.9000000000001 619.4 L722.9000000000001 619.4" stroke="#fff" stroke-width="1.3" fill="none"/>
<line x1="776.60" y1="618.20" x2="789.80" y2="618.20" stroke="#222" stroke-width="0.8" />
<line x1="783.20" y1="612.40" x2="783.20" y2="624.00" stroke="#444" stroke-width="0.6" />
<circle cx="783.2" cy="618.2" r="4.7" fill="#111"/>
<path d="M782.4000000000001 616.2 L782.4000000000001 619.4 L785.4000000000001 619.4" stroke="#fff" stroke-width="1.3" fill="none"/>
<text x="730.50" y="619.90" font-size="7.8" text-anchor="start" fill="#3a3a3a" font-weight="normal" textLength="42.4" lengthAdjust="spacingAndGlyphs" >КОМФОРКИ</text>
</svg>
</body></html>
